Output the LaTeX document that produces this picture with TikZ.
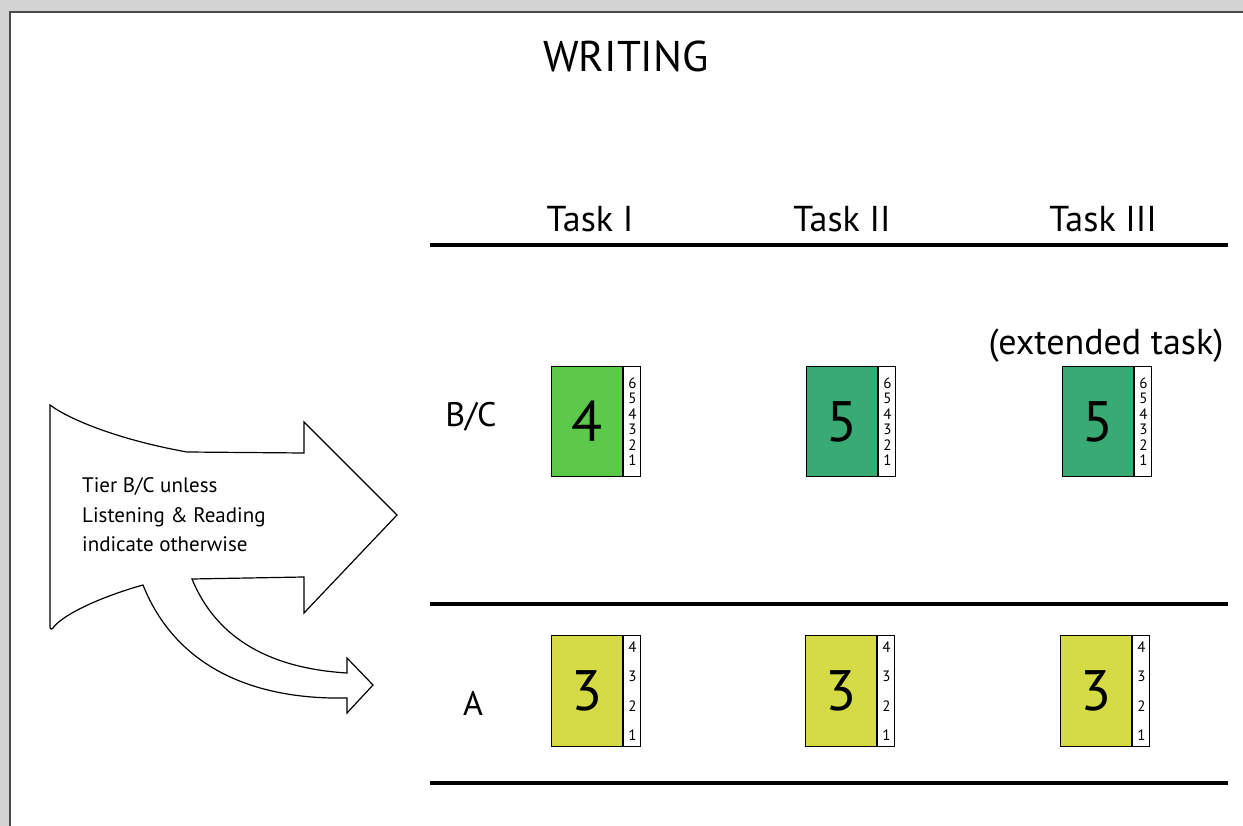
\documentclass[tikz,border=0pt]{standalone}
\usepackage{fontspec}
\setmainfont{PT Sans}
\definecolor{gfour}{HTML}{5CC94B}
\definecolor{gfive}{HTML}{3AAA75}
\definecolor{gthree}{HTML}{D5DB44}
\definecolor{framegray}{HTML}{D3D3D3}
\definecolor{framedark}{HTML}{4A4A4A}
\begin{document}
\begin{tikzpicture}[x=1pt,y=-1pt,
  rulel/.style={line width=4.5pt},
  scorebox/.style={draw=black,line width=1.3pt,minimum width=71pt,anchor=north west,inner sep=0pt,font=\fontsize{57}{57}\selectfont},
  scalestrip/.style={draw=black,line width=1.1pt,fill=white,minimum width=17pt,anchor=north west,inner sep=0pt,align=center},
  bigtext/.style={font=\fontsize{36}{36}\selectfont,anchor=base},
  bigarrow/.style={draw=black,line width=1.2pt,fill=white,line join=miter}]
\useasboundingbox (0,0) rectangle (1243,826);
% frame
\fill[framegray] (0,0) rectangle (1243,11);
\fill[framegray] (0,0) rectangle (9,826);
\draw[framedark,line width=1.6pt] (10,826) -- (10,12) -- (1243,12);
% title
\node[font=\fontsize{43}{43}\selectfont,anchor=base] (title) at (626,72) {WRITING};
% column heads
\node[bigtext] (t1) at (590,232) {Task I};
\node[bigtext] (t2) at (842,232) {Task II};
\node[bigtext] (t3) at (1103,232) {Task III};
\node[bigtext] (ext) at (1106,355) {(extended task)};
% rules
\coordinate (r1a) at (430,245); \coordinate (r1b) at (1228,245);
\coordinate (r2a) at (430,604); \coordinate (r2b) at (1228,604);
\coordinate (r3a) at (430,783); \coordinate (r3b) at (1228,783);
\draw[rulel] (r1a) -- (r1b);
\draw[rulel] (r2a) -- (r2b);
\draw[rulel] (r3a) -- (r3b);
% row labels
\node[bigtext,font=\fontsize{34}{34}\selectfont] (lbc) at (471,427) {B/C};
\node[bigtext,font=\fontsize{34}{34}\selectfont] (la) at (473,715) {A};
% B/C boxes
\node[scorebox,fill=gfour,minimum height=110pt] (b1) at (551,366) {4};
\node[scalestrip,minimum height=110pt,font=\fontsize{15}{15.5}\selectfont] (s1) at (b1.north east) {6\\5\\4\\3\\2\\1};
\node[scorebox,fill=gfive,minimum height=110pt] (b2) at (806,366) {5};
\node[scalestrip,minimum height=110pt,font=\fontsize{15}{15.5}\selectfont] (s2) at (b2.north east) {6\\5\\4\\3\\2\\1};
\node[scorebox,fill=gfive,minimum height=110pt] (b3) at (1062,366) {5};
\node[scalestrip,minimum height=110pt,font=\fontsize{15}{15.5}\selectfont] (s3) at (b3.north east) {6\\5\\4\\3\\2\\1};
% A boxes
\node[scorebox,fill=gthree,minimum height=111pt] (a1) at (551,635) {3};
\node[scalestrip,minimum height=111pt,font=\fontsize{15}{29.5}\selectfont] (sa1) at (a1.north east) {4\\3\\2\\1};
\node[scorebox,fill=gthree,minimum height=111pt] (a2) at (805,635) {3};
\node[scalestrip,minimum height=111pt,font=\fontsize{15}{29.5}\selectfont] (sa2) at (a2.north east) {4\\3\\2\\1};
\node[scorebox,fill=gthree,minimum height=111pt] (a3) at (1060,635) {3};
\node[scalestrip,minimum height=111pt,font=\fontsize{15}{29.5}\selectfont] (sa3) at (a3.north east) {4\\3\\2\\1};
% split arrow
\draw[bigarrow] (50,405) .. controls (70,420) and (120,440) .. (187,452)
  -- (304,453) -- (304,422) -- (397,515) -- (304,613) -- (304,577) -- (192,579)
  .. controls (215,635) and (265,668) .. (347,673)
  -- (347,658) -- (373,685) -- (347,713) -- (347,698)
  .. controls (250,700) and (175,665) .. (143,585)
  .. controls (100,597) and (62,615) .. (53,628)
  .. controls (51,630) and (50,629) .. (50,626) -- cycle;
\node[anchor=west,align=left,font=\fontsize{21}{29.5}\selectfont,inner sep=0pt] (tier) at (82,515) {Tier B/C unless\\Listening \& Reading\\indicate otherwise};
\end{tikzpicture}
\end{document}
